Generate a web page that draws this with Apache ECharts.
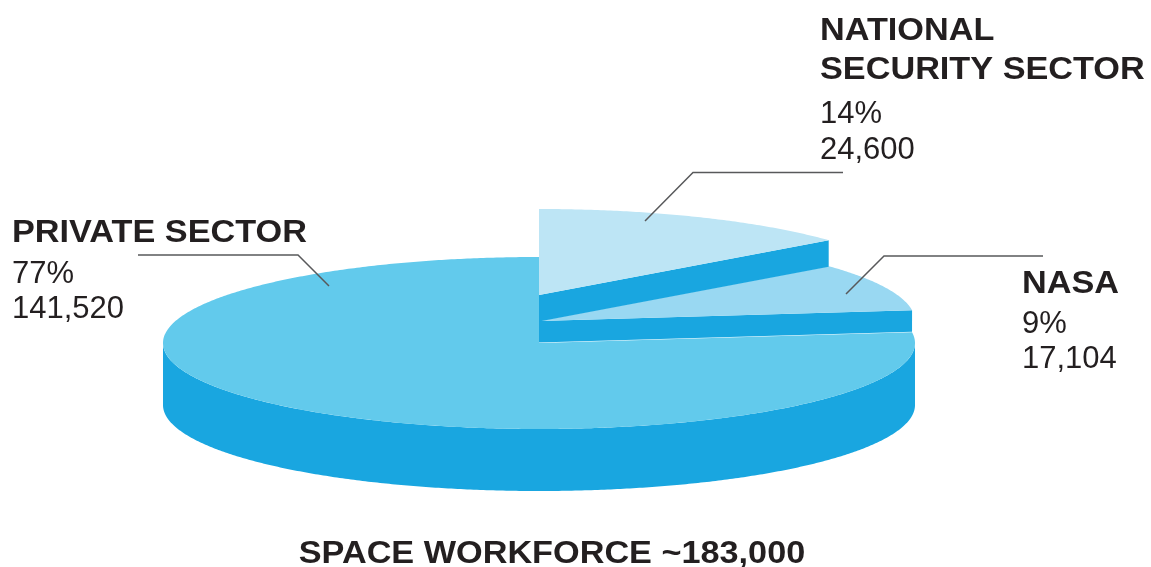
<!DOCTYPE html>
<html>
<head>
<meta charset="utf-8">
<style>html,body{margin:0;padding:0;background:#fff}#chart{width:1151px;height:567px}</style>
<script src="https://cdn.jsdelivr.net/npm/echarts@6/dist/echarts.min.js"></script>
</head>
<body>
<div id="chart"></div>
<script>
// Workforce figures, listed clockwise from twelve o'clock.
const categories = ['NATIONAL\nSECURITY SECTOR', 'NASA', 'PRIVATE SECTOR'];
const sharePercent = [14, 9, 77];
const headcount = ['24,600', '17,104', '141,520'];
const totalLabel = 'SPACE WORKFORCE ~183,000';

// Disc projection and per-slice appearance.
const disc = { cx: 539, cy: 343, rx: 376, ry: 86 };
const lift = [48, 22, 0];
const depth = [26.5, 21.5, 62];
const topColors = ['#BDE5F5', '#99D8F2', '#62CAEC'];
const sideColor = '#19A6E0';
const inkColor = '#231F20';
const leaderColor = '#58595B';

const labelSpots = [
  { x: 820, titleY: 40, line: 39.5, pctY: 123, numY: 159 },
  { x: 1022, titleY: 293, line: 0, pctY: 333, numY: 368 },
  { x: 12, titleY: 242, line: 0, pctY: 283, numY: 318 }
];
const leaders = [
  [[843, 172.5], [693, 172.5], [645, 221]],
  [[1043, 256], [884, 256], [846, 294]],
  [[138, 255], [298, 255], [329, 286]]
];

const titleFont = 'bold 32px "Liberation Sans", Arial, sans-serif';
const bodyFont = '31px "Liberation Sans", Arial, sans-serif';
const titleStretch = 1.07;

// Cumulative angles in degrees: each slice sweeps clockwise from its start.
let running = 90;
const slices = sharePercent.map((share, i) => {
  const start = running;
  running -= share * 3.6;
  return { start, end: running, index: i };
});

function rim(deg, yShift) {
  const a = deg * Math.PI / 180;
  return [disc.cx + disc.rx * Math.cos(a), disc.cy + yShift - disc.ry * Math.sin(a)];
}

function arc(from, to, yShift) {
  const pts = [];
  const steps = Math.max(2, Math.ceil(Math.abs(from - to) * 2));
  for (let s = 0; s <= steps; s++) pts.push(rim(from + (to - from) * s / steps, yShift));
  return pts;
}

function renderSlice(params, api) {
  const i = api.value(0);
  const s = slices[i];
  const topY = -lift[i];
  const botY = topY + depth[i];
  const toPx = pts => pts.map(p => api.coord(p));
  const children = [];

  // Outer wall: only the part of the rim on the front half of the disc.
  const wallFrom = Math.min(s.start, 0);
  const wallTo = Math.max(s.end, -180);
  if (wallFrom > wallTo) {
    const wall = arc(wallFrom, wallTo, topY).concat(arc(wallTo, wallFrom, botY));
    children.push({ type: 'polygon', shape: { points: toPx(wall) }, style: { fill: sideColor } });
  }

  // Cut face along the slice's clockwise edge.
  const hub = [disc.cx, disc.cy + topY];
  const hubLow = [disc.cx, disc.cy + botY];
  const cut = [hub, rim(s.end, topY), rim(s.end, botY), hubLow];
  children.push({ type: 'polygon', shape: { points: toPx(cut) }, style: { fill: sideColor } });

  // Top face.
  const face = [hub].concat(arc(s.start, s.end, topY));
  children.push({ type: 'polygon', shape: { points: toPx(face) }, style: { fill: topColors[i] } });

  return { type: 'group', children };
}

function textEl(text, x, y, font, align, stretch) {
  return {
    type: 'text', z: 20, silent: true,
    x, y, scaleX: stretch || 1,
    style: { text, x: 0, y: 0, font, fill: inkColor, align: align || 'left', verticalAlign: 'bottom' }
  };
}

const graphics = [];
categories.forEach((name, i) => {
  const spot = labelSpots[i];
  const lines = name.split('\n');
  lines.forEach((ln, k) => {
    graphics.push(textEl(ln, spot.x, spot.titleY + 7 + k * spot.line, titleFont, 'left', titleStretch));
  });
  graphics.push(textEl(sharePercent[i] + '%', spot.x, spot.pctY + 7, bodyFont));
  graphics.push(textEl(headcount[i], spot.x, spot.numY + 7, bodyFont));
  graphics.push({
    type: 'polyline', z: 20, silent: true,
    shape: { points: leaders[i] },
    style: { stroke: leaderColor, lineWidth: 1.5, fill: null }
  });
});
graphics.push(textEl(totalLabel, 552, 570, titleFont, 'center', titleStretch));

const chart = echarts.init(document.getElementById('chart'), null, { renderer: 'canvas' });
chart.setOption({
  animation: false,
  backgroundColor: '#ffffff',
  grid: { left: 0, right: 0, top: 0, bottom: 0 },
  xAxis: { type: 'value', min: 0, max: 1151, show: false },
  yAxis: { type: 'value', min: 0, max: 567, inverse: true, show: false },
  graphic: graphics,
  series: [{
    type: 'custom',
    coordinateSystem: 'cartesian2d',
    silent: true,
    clip: false,
    renderItem: renderSlice,
    encode: { x: 1, y: 2 },
    // Painted back to front so the raised slices sit over the private sector.
    data: slices.map(s => [s.index, disc.cx, disc.cy]).reverse()
  }]
});
</script>
</body>
</html>
